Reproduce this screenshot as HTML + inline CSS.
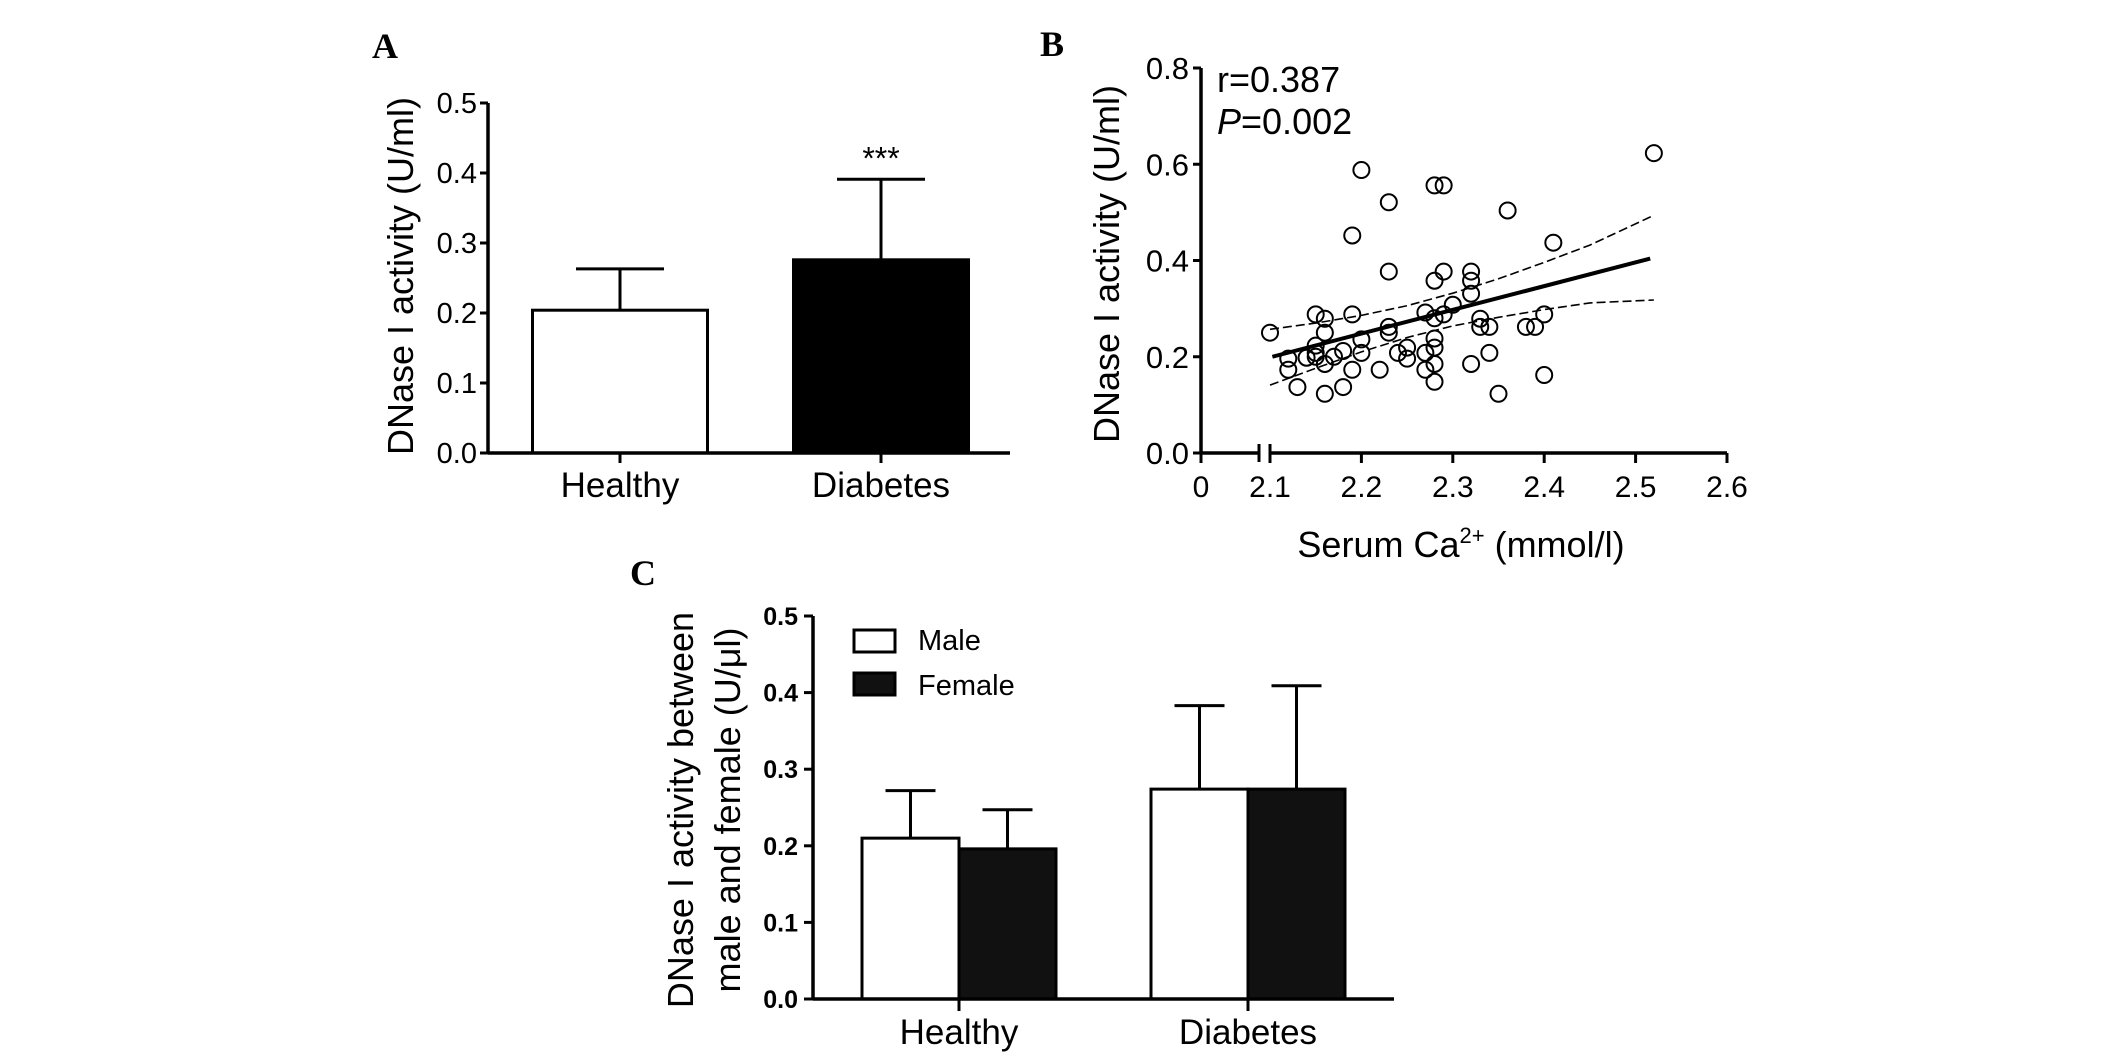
<!DOCTYPE html>
<html><head><meta charset="utf-8"><style>
html,body{margin:0;padding:0;background:#fff;}
svg{display:block;font-family:"Liberation Sans",Arial,sans-serif;}
</style></head><body>
<svg id="fig" width="2126" height="1061" viewBox="0 0 2126 1061" xmlns="http://www.w3.org/2000/svg">
<rect width="2126" height="1061" fill="#fff"/>
<text x="372" y="58" font-family="Liberation Serif,serif" font-weight="bold" font-size="36">A</text>
<text x="1040" y="56" font-family="Liberation Serif,serif" font-weight="bold" font-size="36">B</text>
<text x="630" y="585" font-family="Liberation Serif,serif" font-weight="bold" font-size="36">C</text>
<g id="pa"></g>
<g id="pb"></g>
<g id="pc"></g>
</svg>
<script>
// Panel A data
const aCategories = ["Healthy", "Diabetes"];
const aMeans = [0.204, 0.276];
const aErrors = [0.263, 0.391];
const aTicks = [0.0, 0.1, 0.2, 0.3, 0.4, 0.5];
// Panel B data
const bX = [2.10,2.12,2.12,2.13,2.14,2.15,2.15,2.15,2.15,2.16,2.16,2.16,2.16,2.17,2.18,2.18,2.19,2.19,2.19,2.20,2.20,2.20,2.22,2.23,2.23,2.23,2.23,2.24,2.25,2.25,2.27,2.27,2.27,2.28,2.28,2.28,2.28,2.28,2.28,2.28,2.29,2.29,2.29,2.30,2.32,2.32,2.32,2.32,2.33,2.33,2.34,2.34,2.35,2.36,2.38,2.39,2.40,2.40,2.41,2.52];
const bY = [0.250,0.196,0.173,0.137,0.198,0.288,0.223,0.208,0.200,0.279,0.250,0.185,0.123,0.200,0.212,0.137,0.452,0.288,0.173,0.588,0.236,0.208,0.173,0.521,0.377,0.262,0.250,0.208,0.219,0.196,0.208,0.173,0.292,0.556,0.358,0.238,0.219,0.185,0.148,0.280,0.556,0.377,0.288,0.308,0.377,0.358,0.331,0.185,0.279,0.262,0.262,0.208,0.123,0.504,0.262,0.262,0.288,0.162,0.437,0.623];
const bFitX = [2.1026, 2.516];
const bFitY = [0.200, 0.404];
const bBandX = [2.10,2.15,2.20,2.25,2.30,2.35,2.40,2.45,2.52];
const bUpper = [0.257,0.270,0.286,0.306,0.332,0.362,0.396,0.432,0.494];
const bLower = [0.141,0.176,0.210,0.240,0.264,0.282,0.298,0.312,0.318];
const bYTicks = [0.0, 0.2, 0.4, 0.6, 0.8];
const bXTicks = [2.1, 2.2, 2.3, 2.4, 2.5, 2.6];
// Panel C data
const cCategories = ["Healthy", "Diabetes"];
const cSeries = ["Male", "Female"];
const cMale = [0.210, 0.274];
const cFemale = [0.196, 0.274];
const cMaleErr = [0.272, 0.383];
const cFemaleErr = [0.247, 0.409];
const cTicks = [0.0, 0.1, 0.2, 0.3, 0.4, 0.5];

const NS = "http://www.w3.org/2000/svg";
function mk(parent, tag, attrs, txt) {
  const e = document.createElementNS(NS, tag);
  for (const k in attrs) e.setAttribute(k, attrs[k]);
  if (txt !== undefined) e.textContent = txt;
  parent.appendChild(e);
  return e;
}

// ---------- Panel A ----------
(function(){
  const g = document.getElementById('pa');
  const ax = 488, y0 = 453, yTop = 103, xEnd = 1010;
  const ys = v => y0 - (v / 0.5) * (y0 - yTop);
  const cx = [620, 881], bw = 175;
  let e = mk(g, 'line', {x1:ax, y1:yTop, x2:ax, y2:y0, stroke:'#000','stroke-width':3.5});
  
  
  aTicks.forEach(t => {
    let l = mk(g, 'line', {x1:ax-8, y1:ys(t), x2:ax, y2:ys(t), stroke:'#000','stroke-width':3});
    
    
    let tx = mk(g, 'text', {x:ax-11, y:ys(t)+10, 'text-anchor':'end','font-size':29}, t.toFixed(1));
    
    
  });
  aCategories.forEach((c, i) => {
    const top = ys(aMeans[i]), et = ys(aErrors[i]);
    let el = mk(g, 'line', {x1:cx[i], y1:top, x2:cx[i], y2:et, stroke:'#000','stroke-width':3});
    
    
    let ec = mk(g, 'line', {x1:cx[i]-44, y1:et, x2:cx[i]+44, y2:et, stroke:'#000','stroke-width':3});
    
    
    let r = mk(g, 'rect', {x:cx[i]-bw/2, y:top, width:bw, height:y0-top, fill: i ? '#000' : '#fff', stroke:'#000','stroke-width':3});
    
    
    let tk = mk(g, 'line', {x1:cx[i], y1:y0, x2:cx[i], y2:y0+10, stroke:'#000','stroke-width':3});
    
    
    let lb = mk(g, 'text', {x:cx[i], y:497, 'text-anchor':'middle','font-size':35}, c);
    
    
  });
  e = mk(g, 'line', {x1:ax, y1:y0, x2:xEnd, y2:y0, stroke:'#000','stroke-width':3.5});
  
  
  e = mk(g, 'text', {x:cx[1], y:ys(aErrors[1])-10, 'text-anchor':'middle','font-size':32}, '***');
  
  
  e = mk(g, 'text', {x:0, y:0, 'text-anchor':'middle','font-size':36, transform:'translate(413,276) rotate(-90)'}, 'DNase I activity (U/ml)');
  
  
})();

// ---------- Panel B ----------
(function(){
  const g = document.getElementById('pb');
  const ax = 1201, y0 = 453, yTop = 68, x21 = 1270, x26 = 1727, zeroX = 1201;
  const ys = v => y0 - (v / 0.8) * (y0 - yTop);
  const xs = v => x21 + (v - 2.1) / 0.5 * (x26 - x21);
  let e = mk(g, 'line', {x1:ax, y1:yTop, x2:ax, y2:y0, stroke:'#000','stroke-width':3.5});
  
  
  bYTicks.forEach(t => {
    let l = mk(g, 'line', {x1:ax-8, y1:ys(t), x2:ax, y2:ys(t), stroke:'#000','stroke-width':3});
    
    
    let tx = mk(g, 'text', {x:ax-12, y:ys(t)+11, 'text-anchor':'end','font-size':31}, t.toFixed(1));
    
    
  });
  e = mk(g, 'line', {x1:ax, y1:y0, x2:1259, y2:y0, stroke:'#000','stroke-width':3.5});
  
  
  e = mk(g, 'line', {x1:1270, y1:y0, x2:x26, y2:y0, stroke:'#000','stroke-width':3.5});
  
  
  [1259, 1270].forEach(bx => {
    let b = mk(g, 'line', {x1:bx, y1:y0-9, x2:bx, y2:y0+9, stroke:'#000','stroke-width':3});
    
    
  });
  let z = mk(g, 'line', {x1:zeroX, y1:y0, x2:zeroX, y2:y0+10, stroke:'#000','stroke-width':3});
  
  
  z = mk(g, 'text', {x:zeroX, y:497, 'text-anchor':'middle','font-size':30}, '0');
  
  
  bXTicks.forEach(t => {
    let l = mk(g, 'line', {x1:xs(t), y1:y0, x2:xs(t), y2:y0+10, stroke:'#000','stroke-width':3});
    
    
    let tx = mk(g, 'text', {x:xs(t), y:497, 'text-anchor':'middle','font-size':30}, t.toFixed(1));
    
    
  });
  const up = bBandX.map((x,i) => (i?'L':'M') + xs(x).toFixed(1) + ',' + ys(bUpper[i]).toFixed(1)).join(' ');
  const lo = bBandX.map((x,i) => (i?'L':'M') + xs(x).toFixed(1) + ',' + ys(bLower[i]).toFixed(1)).join(' ');
  e = mk(g, 'path', {d:up, fill:'none', stroke:'#000','stroke-width':1.6,'stroke-dasharray':'9,4'});
  
  
  e = mk(g, 'path', {d:lo, fill:'none', stroke:'#000','stroke-width':1.6,'stroke-dasharray':'9,4'});
  
  
  e = mk(g, 'line', {x1:xs(bFitX[0]), y1:ys(bFitY[0]), x2:xs(bFitX[1]), y2:ys(bFitY[1]), stroke:'#000','stroke-width':4});
  
  
  bX.forEach((x, i) => {
    let c = mk(g, 'circle', {cx:xs(x), cy:ys(bY[i]), r:8, fill:'none', stroke:'#000','stroke-width':2});
    
    
  });
  e = mk(g, 'text', {x:1217, y:92, 'font-size':36}, 'r=0.387');
  
  
  e = mk(g, 'text', {x:1217, y:134, 'font-size':36});
  
  
  mk(e, 'tspan', {'font-style':'italic'}, 'P');
  mk(e, 'tspan', {}, '=0.002');
  e = mk(g, 'text', {x:1461, y:557, 'text-anchor':'middle','font-size':36});
  
  
  mk(e, 'tspan', {}, 'Serum Ca');
  mk(e, 'tspan', {'font-size':22, dy:-14}, '2+');
  mk(e, 'tspan', {dy:14}, ' (mmol/l)');
  e = mk(g, 'text', {x:0, y:0, 'text-anchor':'middle','font-size':36, transform:'translate(1119,264) rotate(-90)'}, 'DNase I activity (U/ml)');
  
  
})();

// ---------- Panel C ----------
(function(){
  const g = document.getElementById('pc');
  const ax = 813, y0 = 999, yTop = 616, xEnd = 1394;
  const ys = v => y0 - (v / 0.5) * (y0 - yTop);
  const cx = [959, 1248], bw = 97;
  let e = mk(g, 'line', {x1:ax, y1:yTop, x2:ax, y2:y0, stroke:'#000','stroke-width':3.5});
  
  
  cTicks.forEach(t => {
    let l = mk(g, 'line', {x1:ax-9, y1:ys(t), x2:ax, y2:ys(t), stroke:'#000','stroke-width':3});
    
    
    let tx = mk(g, 'text', {x:ax-15, y:ys(t)+9, 'text-anchor':'end','font-size':25,'font-weight':'bold'}, t.toFixed(1));
    
    
  });
  cCategories.forEach((c, i) => {
    [[cMale, cMaleErr, '#fff', -1], [cFemale, cFemaleErr, '#111', 0]].forEach((s, j) => {
      const x = cx[i] + s[3] * bw;
      const top = ys(s[0][i]), et = ys(s[1][i]), mid = x + bw / 2;
      let el = mk(g, 'line', {x1:mid, y1:top, x2:mid, y2:et, stroke:'#000','stroke-width':3});
      
      
      let ec = mk(g, 'line', {x1:mid-25, y1:et, x2:mid+25, y2:et, stroke:'#000','stroke-width':3});
      
      
      let r = mk(g, 'rect', {x:x, y:top, width:bw, height:y0-top, fill:s[2], stroke:'#000','stroke-width':3});
      
      
    });
    let tk = mk(g, 'line', {x1:cx[i], y1:y0, x2:cx[i], y2:y0+12, stroke:'#000','stroke-width':3});
    
    
    let lb = mk(g, 'text', {x:cx[i], y:1044, 'text-anchor':'middle','font-size':35}, c);
    
    
  });
  e = mk(g, 'line', {x1:ax, y1:y0, x2:xEnd, y2:y0, stroke:'#000','stroke-width':3.5});
  
  
  const legY = [630, 673], legFill = ['#fff', '#111'], legBase = [650, 695];
  cSeries.forEach((s, i) => {
    let r = mk(g, 'rect', {x:854, y:legY[i], width:41, height:22, fill:legFill[i], stroke:'#000','stroke-width':3});
    
    
    let t = mk(g, 'text', {x:918, y:legBase[i], 'font-size':29}, s);
    
    
  });
  e = mk(g, 'text', {x:0, y:0, 'text-anchor':'middle','font-size':36, transform:'translate(693,810) rotate(-90)'}, 'DNase I activity between');
  
  
  e = mk(g, 'text', {x:0, y:0, 'text-anchor':'middle','font-size':36, transform:'translate(740,810) rotate(-90)'}, 'male and female (U/\u03bcl)');
  
  
})();
</script>
</body></html>
